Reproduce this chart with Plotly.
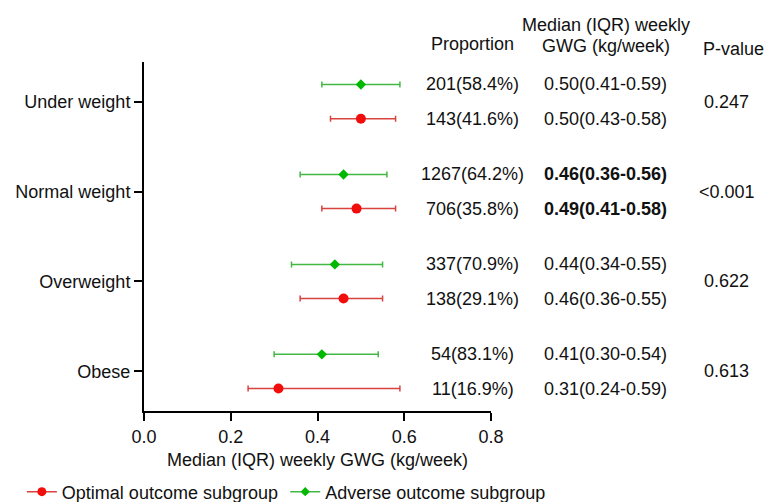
import plotly.graph_objects as go

categories = ["Under weight", "Normal weight", "Overweight", "Obese"]
cat_pos = [3, 2, 1, 0]

adverse_median = [0.50, 0.46, 0.44, 0.41]
adverse_q1 = [0.41, 0.36, 0.34, 0.30]
adverse_q3 = [0.59, 0.56, 0.55, 0.54]
adverse_prop = ["201(58.4%)", "1267(64.2%)", "337(70.9%)", "54(83.1%)"]

optimal_median = [0.50, 0.49, 0.46, 0.31]
optimal_q1 = [0.43, 0.41, 0.36, 0.24]
optimal_q3 = [0.58, 0.58, 0.55, 0.59]
optimal_prop = ["143(41.6%)", "706(35.8%)", "138(29.1%)", "11(16.9%)"]

p_values = ["0.247", "<0.001", "0.622", "0.613"]
bold_rows = [False, True, False, False]

x_ticks = [0.0, 0.2, 0.4, 0.6, 0.8]

OFF = 0.19
FS = 18
FONT = "Liberation Sans, Arial, sans-serif"
RED_M, RED_L = "#f20d0d", "#d8423f"
GRN_M, GRN_L = "#00b800", "#44b844"

y_adv = [p + OFF for p in cat_pos]
y_opt = [p - OFF for p in cat_pos]

fig = go.Figure()
fig.add_trace(go.Scatter(
    x=adverse_median, y=y_adv, mode="markers",
    marker=dict(symbol="diamond", size=8, color=GRN_M),
    error_x=dict(type="data", symmetric=False,
                 array=[b - m for m, b in zip(adverse_median, adverse_q3)],
                 arrayminus=[m - a for m, a in zip(adverse_median, adverse_q1)],
                 color=GRN_L, thickness=1.5, width=3),
    showlegend=False))
fig.add_trace(go.Scatter(
    x=optimal_median, y=y_opt, mode="markers",
    marker=dict(symbol="circle", size=10, color=RED_M),
    error_x=dict(type="data", symmetric=False,
                 array=[b - m for m, b in zip(optimal_median, optimal_q3)],
                 arrayminus=[m - a for m, a in zip(optimal_median, optimal_q1)],
                 color=RED_L, thickness=1.5, width=3),
    showlegend=False))
# legend entries
fig.add_trace(go.Scatter(x=[None], y=[None], mode="lines+markers",
                         name="Optimal outcome subgroup", legend="legend",
                         line=dict(color=RED_L, width=1.5),
                         marker=dict(symbol="circle", size=9, color=RED_M)))
fig.add_trace(go.Scatter(x=[None], y=[None], mode="lines+markers",
                         name="Adverse outcome subgroup", legend="legend2",
                         line=dict(color=GRN_L, width=1.5),
                         marker=dict(symbol="diamond", size=7, color=GRN_M)))

ann = []
def txt(x, y, s, yref="y"):
    ann.append(dict(x=x, y=y, xref="paper", yref=yref, text=s, showarrow=False,
                    xanchor="center", yanchor="middle",
                    font=dict(family=FONT, size=FS, color="#111")))

X_PROP, X_MED, X_P = 0.948, 1.331, 1.68
for i, p in enumerate(cat_pos):
    txt(X_PROP, p + OFF, adverse_prop[i])
    txt(X_PROP, p - OFF, optimal_prop[i])
    sa = f"{adverse_median[i]:.2f}({adverse_q1[i]:.2f}-{adverse_q3[i]:.2f})"
    so = f"{optimal_median[i]:.2f}({optimal_q1[i]:.2f}-{optimal_q3[i]:.2f})"
    if bold_rows[i]:
        sa, so = f"<b>{sa}</b>", f"<b>{so}</b>"
    txt(X_MED, p + OFF, sa)
    txt(X_MED, p - OFF, so)
    txt(X_P, p, p_values[i])

txt(X_PROP, 1.052, "Proportion", yref="paper")
txt(X_MED, 1.106, "Median (IQR) weekly", yref="paper")
txt(X_MED, 1.046, "GWG (kg/week)", yref="paper")
txt(1.70, 1.037, "P-value", yref="paper")

leg = dict(orientation="h", xanchor="left", y=-0.232, yanchor="middle",
           font=dict(family=FONT, size=FS, color="#111"),
           bgcolor="rgba(0,0,0,0)", borderwidth=0)

fig.update_layout(
    width=768, height=502,
    margin=dict(l=144, r=277, t=62, b=91, autoexpand=False),
    paper_bgcolor="white", plot_bgcolor="white",
    font=dict(family=FONT, size=FS, color="#111"),
    annotations=ann,
    xaxis=dict(range=[0, 0.8], tickvals=x_ticks,
               ticktext=[f"{v:.1f}" for v in x_ticks],
               showgrid=False, zeroline=False, showline=True,
               linecolor="black", linewidth=2, ticks="outside",
               ticklen=8, tickwidth=2, tickcolor="black",
               tickfont=dict(size=FS),
               title=dict(text="Median (IQR) weekly GWG (kg/week)",
                          font=dict(size=FS), standoff=8)),
    yaxis=dict(range=[-0.44, 3.44], tickvals=cat_pos, ticktext=categories,
               showgrid=False, zeroline=False, showline=True,
               linecolor="black", linewidth=2, ticks="outside",
               ticklen=8, tickwidth=2, tickcolor="black",
               tickfont=dict(size=FS)),
    legend=dict(leg, x=-0.352),
    legend2=dict(leg, x=0.407),
)

# remove the page's default 8px body margin so the 768x502 figure fills the window
fig.write_html("out.html", config={"displayModeBar": False},
               post_script="document.body.style.margin='0';document.body.style.overflow='hidden';")
